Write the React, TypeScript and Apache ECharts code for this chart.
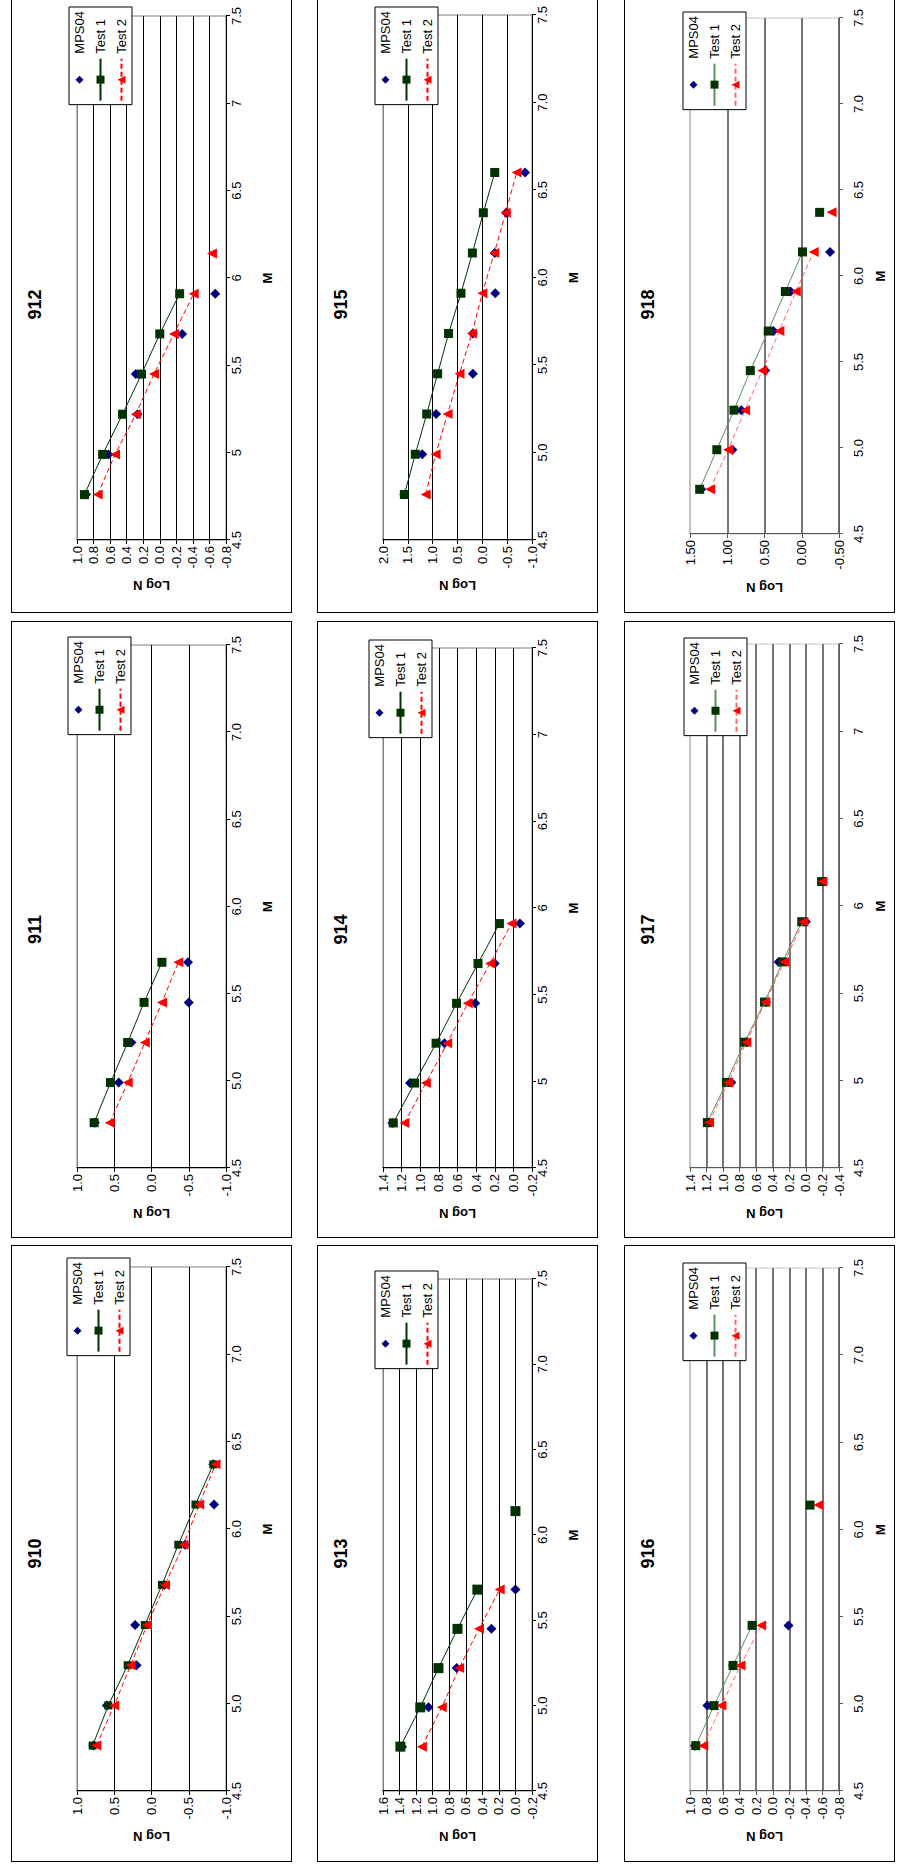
import React, { useEffect, useRef } from "react";
import * as echarts from "echarts";

// ---------- data ----------
const M_BINS = [4.76, 4.99, 5.22, 5.45, 5.68, 5.91, 6.14, 6.37, 6.6];
const SERIES_NAMES = ["MPS04", "Test 1", "Test 2"];
const X_AXIS_NAME = "M";
const Y_AXIS_NAME = "Log N";

const mps04_910 = [0.78, 0.6, 0.2, 0.22, -0.17, -0.45, -0.84, -0.83, null];
const test1_910 = [0.79, 0.58, 0.32, 0.09, -0.14, -0.36, -0.59, -0.83, null];
const test2_910 = [0.74, 0.5, 0.28, 0.06, -0.18, -0.43, -0.64, -0.86, null];

const mps04_911 = [0.76, 0.44, 0.27, -0.5, -0.49, null, null, null, null];
const test1_911 = [0.77, 0.55, 0.32, 0.1, -0.14, null, null, null, null];
const test2_911 = [0.56, 0.32, 0.09, -0.14, -0.36, null, null, null, null];

const mps04_912 = [0.89, 0.62, 0.27, 0.29, -0.27, -0.67, null, null, null];
const test1_912 = [0.91, 0.69, 0.45, 0.22, 0.0, -0.24, null, null, null];
const test2_912 = [0.75, 0.54, 0.29, 0.07, -0.17, -0.41, -0.63, null, null];

const mps04_913 = [1.37, 1.05, 0.71, 0.29, 0.0, null, null, null, null];
const test1_913 = [1.39, 1.15, 0.93, 0.7, 0.46, null, 0.0, null, null];
const test2_913 = [1.13, 0.89, 0.68, 0.44, 0.19, null, null, null, null];

const mps04_914 = [1.3, 1.11, 0.74, 0.41, 0.2, -0.07, null, null, null];
const test1_914 = [1.29, 1.06, 0.83, 0.61, 0.38, 0.15, null, null, null];
const test2_914 = [1.17, 0.94, 0.71, 0.49, 0.25, 0.02, null, null, null];

const mps04_915 = [1.57, 1.21, 0.93, 0.19, 0.19, -0.26, -0.25, -0.48, -0.86];
const test1_915 = [1.57, 1.35, 1.12, 0.9, 0.68, 0.43, 0.2, -0.02, -0.25];
const test2_915 = [1.14, 0.94, 0.7, 0.46, 0.21, 0.0, -0.24, -0.47, -0.69];

const mps04_916 = [0.94, 0.79, 0.48, -0.19, null, null, null, null, null];
const test1_916 = [0.93, 0.71, 0.48, 0.25, null, null, -0.45, null, null];
const test2_916 = [0.84, 0.62, 0.39, 0.14, null, null, -0.55, null, null];

const mps04_917 = [1.18, 0.9, 0.72, 0.48, 0.33, 0.0, null, null, null];
const test1_917 = [1.19, 0.96, 0.74, 0.5, 0.28, 0.05, -0.19, null, null];
const test2_917 = [1.17, 0.94, 0.72, 0.49, 0.26, 0.03, -0.2, null, null];

const mps04_918 = [1.35, 0.93, 0.81, 0.49, 0.38, 0.15, -0.38, null, null];
const test1_918 = [1.37, 1.14, 0.91, 0.69, 0.45, 0.22, -0.01, -0.24, null];
const test2_918 = [1.23, 0.99, 0.76, 0.53, 0.3, 0.08, -0.16, -0.4, null];

// y axis: [min, max, step, decimals]; xDec null = general number format
const PANELS = [
  { title: "910", mps: mps04_910, t1: test1_910, t2: test2_910, y: [-1, 1, 0.5, 1], xDec: 1, detachFrom: null },
  { title: "911", mps: mps04_911, t1: test1_911, t2: test2_911, y: [-1, 1, 0.5, 1], xDec: 1, detachFrom: null },
  { title: "912", mps: mps04_912, t1: test1_912, t2: test2_912, y: [-0.8, 1, 0.2, 1], xDec: null, detachFrom: 6 },
  { title: "913", mps: mps04_913, t1: test1_913, t2: test2_913, y: [-0.2, 1.6, 0.2, 1], xDec: 1, detachFrom: null },
  { title: "914", mps: mps04_914, t1: test1_914, t2: test2_914, y: [-0.2, 1.4, 0.2, 1], xDec: null, detachFrom: null },
  { title: "915", mps: mps04_915, t1: test1_915, t2: test2_915, y: [-1, 2, 0.5, 1], xDec: 1, detachFrom: null },
  { title: "916", mps: mps04_916, t1: test1_916, t2: test2_916, y: [-0.8, 1, 0.2, 1], xDec: 1, detachFrom: null },
  { title: "917", mps: mps04_917, t1: test1_917, t2: test2_917, y: [-0.4, 1.4, 0.2, 1], xDec: null, detachFrom: 6 },
  { title: "918", mps: mps04_918, t1: test1_918, t2: test2_918, y: [-0.5, 1.5, 0.5, 2], xDec: 1, detachFrom: 7 },
];

// ---------- layout ----------
const COL_X = [11, 317, 624];
const COL_W = [281, 281, 271];
const ROW_Y = [-4, 621, 1245];
const PANEL_LEN = 617;

const LAYOUT: Record<string, any> = {
  "912": { col: 0, row: 0, left: 73, right: 20, legRight: 11, legTop: 58, mk: 9 },
  "915": { col: 1, row: 0, left: 73, right: 19, legRight: 11, legTop: 58, mk: 9 },
  "918": { col: 2, row: 0, left: 79, right: 22, legRight: 16, legTop: 59, mk: 9 },
  "911": { col: 0, row: 1, left: 70, right: 24, legRight: 16, legTop: 57, mk: 9 },
  "914": { col: 1, row: 1, left: 70, right: 27, legRight: 19, legTop: 52, mk: 9 },
  "917": { col: 2, row: 1, left: 70, right: 23, legRight: 17, legTop: 60, mk: 9 },
  "910": { col: 0, row: 2, left: 71, right: 22, legRight: 13, legTop: 56, mk: 8 },
  "913": { col: 1, row: 2, left: 71, right: 34, legRight: 26, legTop: 58, mk: 10 },
  "916": { col: 2, row: 2, left: 71, right: 23, legRight: 18, legTop: 59, mk: 9 },
};

const STYLE_SHARP = {
  grid: "#000000", gridW: 1, topGrid: "#808080", axis: "#000000",
  t1Line: "#003300", t2Line: "#ff0000", xMargin: 4,
};
const STYLE_SOFT = {
  grid: "#767676", gridW: 2, topGrid: "#c4c4c4", axis: "#5a5a5a",
  t1Line: "#5f8f5f", t2Line: "#ff6666", xMargin: 13,
};

const FONT = "Arial, 'Liberation Sans', sans-serif";

function lineData(vals: (number | null)[], detachFrom: number | null) {
  const out: any[] = [];
  vals.forEach((v, i) => {
    if (detachFrom !== null && i >= detachFrom) out.push([M_BINS[i], null]);
    out.push([M_BINS[i], v]);
  });
  return out;
}

function buildOption(p: any, lay: any, h: number) {
  const st = lay.col === 2 ? STYLE_SOFT : STYLE_SHARP;
  const [yMin, yMax, yStep, yDec] = p.y;
  const nTicks = Math.round((yMax - yMin) / yStep) + 1;
  const splitColors = Array.from({ length: nTicks }, (_, i) =>
    i === nTicks - 1 ? st.topGrid : st.grid
  );
  return {
    animation: false,
    backgroundColor: "#ffffff",
    textStyle: { fontFamily: FONT },
    title: {
      text: p.title,
      left: "center",
      top: 14,
      padding: 0,
      textStyle: { fontFamily: FONT, fontSize: 18, fontWeight: "bold", color: "#000" },
    },
    legend: {
      data: SERIES_NAMES,
      orient: "vertical",
      right: lay.legRight - 1,
      top: lay.legTop - 1,
      backgroundColor: "#ffffff",
      borderColor: "#000000",
      borderWidth: 1,
      borderRadius: 0,
      padding: [4, 4, 4, 3],
      itemGap: 8,
      itemWidth: 42,
      itemHeight: 10,
      selectedMode: false,
      textStyle: { fontFamily: FONT, fontSize: 13, color: "#000" },
    },
    grid: {
      left: lay.left - 1,
      right: lay.right - 1,
      top: 65,
      bottom: h - 213 - 1,
      show: true,
      borderColor: st.topGrid,
      borderWidth: 1,
      backgroundColor: "transparent",
    },
    xAxis: {
      type: "value",
      min: 4.5,
      max: 7.5,
      interval: 0.5,
      name: X_AXIS_NAME,
      nameLocation: "middle",
      nameGap: 35,
      nameTextStyle: { fontFamily: FONT, fontSize: 13, fontWeight: "bold", color: "#000" },
      axisLine: { show: true, onZero: false, lineStyle: { color: st.axis, width: 1 } },
      axisTick: { show: true, inside: false, length: 4, lineStyle: { color: st.axis } },
      axisLabel: {
        fontFamily: FONT,
        fontSize: 13,
        color: "#000",
        margin: st.xMargin,
        formatter: (v: number) => (p.xDec === null ? String(+v.toFixed(2)) : v.toFixed(p.xDec)),
      },
      splitLine: { show: false },
    },
    yAxis: {
      type: "value",
      min: yMin,
      max: yMax,
      interval: yStep,
      name: Y_AXIS_NAME,
      nameLocation: "middle",
      nameGap: 39,
      nameRotate: 90,
      nameTextStyle: { fontFamily: FONT, fontSize: 13, fontWeight: "bold", color: "#000" },
      axisLine: { show: true, onZero: false, lineStyle: { color: st.axis, width: 1 } },
      axisTick: { show: true, inside: false, length: 4, lineStyle: { color: st.axis } },
      axisLabel: {
        fontFamily: FONT,
        fontSize: 13,
        color: "#000",
        margin: 6,
        formatter: (v: number) => v.toFixed(yDec),
      },
      splitLine: { show: true, lineStyle: { color: splitColors, width: st.gridW } },
    },
    series: [
      {
        // markers only: the connecting line is kept invisible
        name: SERIES_NAMES[0],
        type: "line",
        symbol: "diamond",
        symbolSize: 10,
        connectNulls: false,
        lineStyle: { width: 0, opacity: 0 },
        itemStyle: { color: "#000080" },
        data: p.mps.map((v: number | null, i: number) => [M_BINS[i], v]),
        z: 2,
      },
      {
        name: SERIES_NAMES[1],
        type: "line",
        symbol: "rect",
        symbolSize: lay.mk,
        connectNulls: false,
        lineStyle: { color: st.t1Line, width: 1 },
        itemStyle: { color: "#003300" },
        data: lineData(p.t1, p.detachFrom),
        z: 3,
      },
      {
        name: SERIES_NAMES[2],
        type: "line",
        symbol: "triangle",
        symbolSize: 10,
        connectNulls: false,
        lineStyle: { color: st.t2Line, width: 1, type: [5, 3] },
        itemStyle: { color: "#ff0000" },
        data: lineData(p.t2, p.detachFrom),
        z: 4,
      },
    ],
  };
}

function Panel({ p }: { p: any }) {
  const ref = useRef<HTMLDivElement>(null);
  const lay = LAYOUT[p.title];
  const h = COL_W[lay.col];
  useEffect(() => {
    if (!ref.current) return;
    const chart = echarts.init(ref.current, null, { renderer: "svg" });
    chart.setOption(buildOption(p, lay, h - 2));
    return () => chart.dispose();
  }, []);
  return (
    <div
      style={{
        position: "absolute",
        left: COL_X[lay.col],
        top: ROW_Y[lay.row] + PANEL_LEN,
        width: PANEL_LEN,
        height: h,
        transform: "rotate(-90deg)",
        transformOrigin: "0 0",
        border: "1px solid #000",
        boxSizing: "border-box",
        background: "#fff",
      }}
    >
      <div ref={ref} style={{ width: PANEL_LEN - 2, height: h - 2 }} />
    </div>
  );
}

export default function App() {
  return (
    <div
      style={{
        position: "absolute",
        left: 0,
        top: 0,
        width: 901,
        height: 1872,
        background: "#ffffff",
        overflow: "hidden",
      }}
    >
      {PANELS.map((p) => (
        <Panel key={p.title} p={p} />
      ))}
    </div>
  );
}
